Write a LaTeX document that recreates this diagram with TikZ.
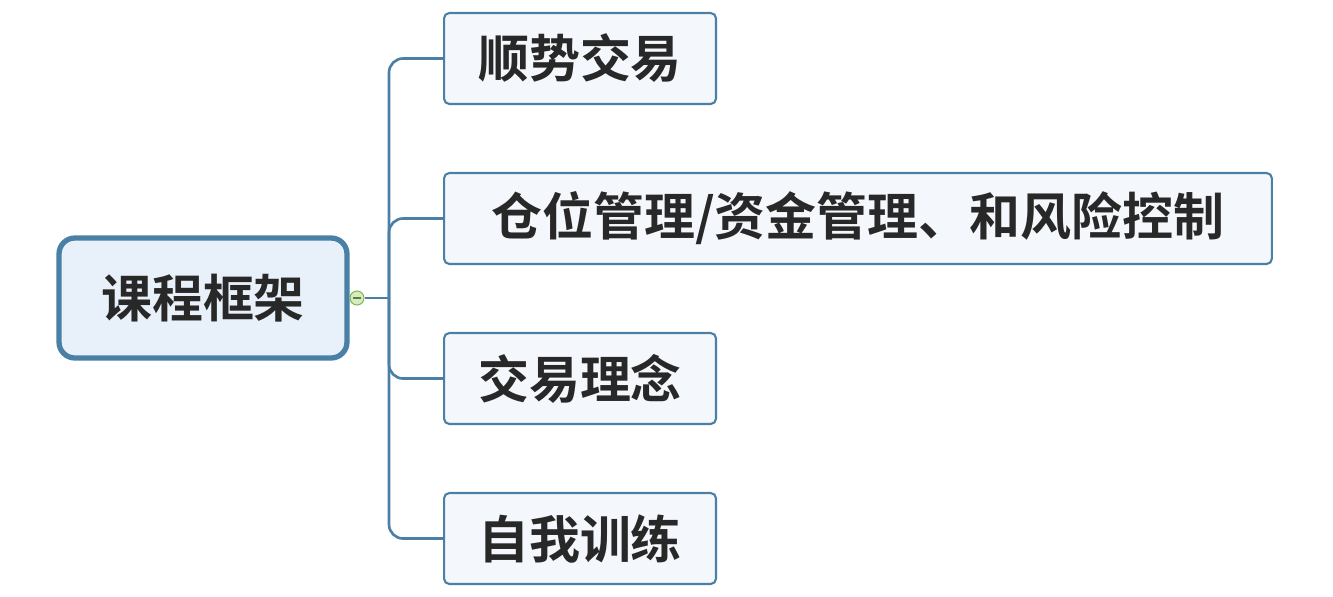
\documentclass[tikz,border=0pt]{standalone}
\usepackage{fontspec}
\newfontfamily\cjk{Noto Sans CJK SC Bold}
\definecolor{edgeblue}{RGB}{74,128,166}
\definecolor{rootfill}{RGB}{232,241,250}
\definecolor{childfill}{RGB}{244,248,252}
\definecolor{knobfill}{RGB}{214,236,190}
\definecolor{knobline}{RGB}{130,180,90}
\definecolor{txt}{RGB}{40,40,40}
\tikzset{
  rootbox/.style={draw=edgeblue, line width=3pt, fill=rootfill, rounded corners=9pt,
    minimum width=5.76cm, minimum height=2.4cm, text=txt, font=\cjk\fontsize{29}{32}\selectfont},
  topicbox/.style={draw=edgeblue, line width=1.2pt, fill=childfill, rounded corners=3pt,
    anchor=west, minimum height=1.82cm, text=txt, font=\cjk\fontsize{29}{32}\selectfont},
  branch/.style={draw=edgeblue, line width=1.5pt, rounded corners=8pt}
}
\begin{document}
\begin{tikzpicture}[x=0.02cm,y=-0.02cm]
\useasboundingbox (0,0) rectangle (1333,596);
% root
\node[rootbox] (root) at (203,298) {课程框架};
% topics
\node[topicbox, minimum width=5.44cm] (trend) at (443,58.5) {顺势交易};
\node[topicbox, minimum width=16.56cm] (risk) at (443,218.5) {仓位管理/资金管理、和风险控制};
\node[topicbox, minimum width=5.44cm] (idea) at (443,378.5) {交易理念};
\node[topicbox, minimum width=5.44cm] (train) at (443,538.5) {自我训练};
% connectors
\coordinate (hub) at (389,298);
\draw[edgeblue, line width=1.5pt] (365,298) -- (hub);
\draw[branch] (trend.west) -| (hub) |- (train.west);
\draw[branch] (risk.west) -| (hub);
\draw[branch] (idea.west) -| (hub);
% collapse knob
\node[circle, draw=knobline, fill=knobfill, line width=0.6pt, minimum size=0.28cm, inner sep=0pt] (knob) at (357,298) {};
\draw[knobline!70!black, line width=0.8pt] ([xshift=-2.5pt]knob.center) -- ([xshift=2.5pt]knob.center);
\end{tikzpicture}
\end{document}
